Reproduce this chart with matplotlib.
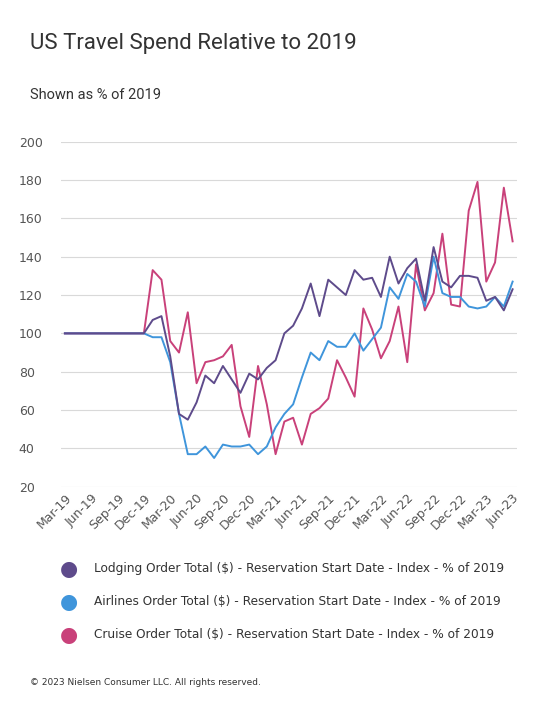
import matplotlib.pyplot as plt
import pandas as pd

months = pd.date_range("2019-03-01", "2023-06-01", freq="MS")
pre = [100] * 10
lodging = pre + [107, 109, 88, 58, 55, 64, 78, 74, 83, 76, 69, 79,
                 76, 82, 86, 100, 104, 113, 126, 109, 128, 124, 120, 133,
                 128, 129, 119, 140, 126, 134, 139, 117, 145, 127, 124, 130,
                 130, 129, 117, 119, 112, 123]
airlines = pre + [98, 98, 85, 58, 37, 37, 41, 35, 42, 41, 41, 42,
                  37, 41, 51, 58, 63, 77, 90, 86, 96, 93, 93, 100,
                  91, 97, 103, 124, 118, 131, 127, 114, 140, 121, 119, 119,
                  114, 113, 114, 119, 114, 127]
cruise = pre + [133, 128, 96, 90, 111, 74, 85, 86, 88, 94, 62, 46,
                83, 63, 37, 54, 56, 42, 58, 61, 66, 86, 77, 67,
                113, 102, 87, 96, 114, 85, 136, 112, 121, 152, 115, 114,
                164, 179, 127, 137, 176, 148]
series_names = ["Lodging Order Total ($) - Reservation Start Date - Index - % of 2019",
                "Airlines Order Total ($) - Reservation Start Date - Index - % of 2019",
                "Cruise Order Total ($) - Reservation Start Date - Index - % of 2019"]
colors = ["#5e4b8b", "#3f95db", "#c9417a"]
yticks = [20, 40, 60, 80, 100, 120, 140, 160, 180, 200]

fig = plt.figure(figsize=(5.5, 7.19), dpi=100)
fig.text(0.055, 0.932, "US Travel Spend Relative to 2019", fontsize=16,
         color="#333333", family="Roboto")
fig.text(0.055, 0.862, "Shown as % of 2019", fontsize=10.5, color="#333333", family="Roboto")

ax = fig.add_axes([0.11, 0.323, 0.83, 0.48])
x = list(range(len(months)))
# cruise first so lodging ends up on top
for vals, c in zip([cruise, airlines, lodging], colors[::-1]):
    ax.plot(x, vals, color=c, lw=1.4)
ax.set_ylim(20, 200)
ax.set_xlim(-0.5, len(x) - 0.5)
ax.set_yticks(yticks)
ax.grid(axis="y", color="#d9d9d9", lw=0.8)
ax.set_axisbelow(True)
for s in ax.spines.values():
    s.set_visible(False)
ax.tick_params(length=0, labelsize=9, colors="#555555")
for lab in ax.get_yticklabels():
    lab.set_horizontalalignment("left")
ax.tick_params(axis="y", pad=30)
ax.set_xticks(x[::3])
ax.set_xticklabels([m.strftime("%b-%y") for m in months[::3]], rotation=45,
                   ha="right", rotation_mode="anchor", fontsize=9)

for i, (name, c) in enumerate(zip(series_names, colors)):
    yy = 0.209 - i * 0.046
    fig.text(0.125, yy, "\u25CF", color=c, fontsize=15, ha="center", va="center")
    fig.text(0.17, yy, name, fontsize=8.7, color="#333333", va="center")

fig.text(0.055, 0.047, "\u00A9 2023 Nielsen Consumer LLC. All rights reserved.",
         fontsize=6.5, color="#333333")
fig.savefig("out.png")
